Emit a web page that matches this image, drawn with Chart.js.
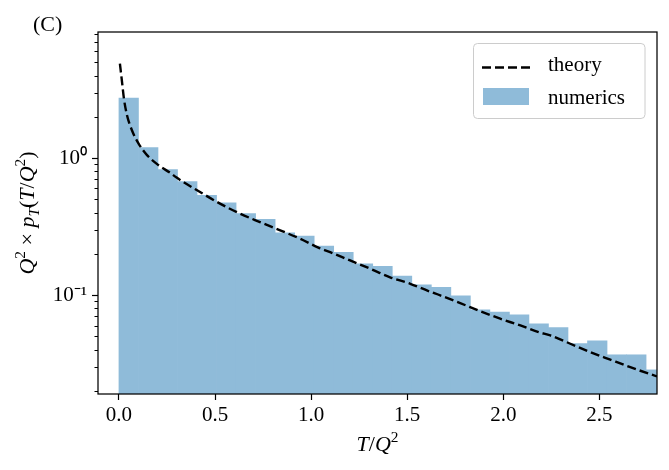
<!DOCTYPE html>
<html>
<head>
<meta charset="utf-8">
<script src="https://cdn.jsdelivr.net/npm/chart.js@4.4.1/dist/chart.umd.min.js"></script>
<style>
  html, body { margin: 0; padding: 0; background: #fff; }
  #wrap { width: 669px; height: 470px; }
</style>
</head>
<body>
<div id="wrap"><canvas id="chart" width="669" height="470"></canvas></div>
<script>
// ---------------------------------------------------------------------------
// Data
// ---------------------------------------------------------------------------

// histogram bin edges (T/Q^2)
const binEdges = [
  0.0000, 0.1016, 0.2032, 0.3048, 0.4064, 0.5080, 0.6096, 0.7112, 0.8128, 0.9144,
  1.0160, 1.1176, 1.2192, 1.3208, 1.4224, 1.5240, 1.6256, 1.7272, 1.8288, 1.9304,
  2.0320, 2.1336, 2.2352, 2.3368, 2.4384, 2.5400, 2.6416, 2.7432, 2.8448
];
// normalised histogram heights ("numerics")
const binHeights = [
  2.74, 1.19, 0.823, 0.673, 0.534, 0.472, 0.393, 0.357, 0.285, 0.270,
  0.228, 0.205, 0.169, 0.162, 0.138, 0.119, 0.114, 0.099, 0.078, 0.0752,
  0.0719, 0.0618, 0.0581, 0.0444, 0.0465, 0.0367, 0.0367, 0.0285
];

// theory curve samples
const theoryT = [
  0.005, 0.016, 0.026, 0.042, 0.068, 0.103, 0.146, 0.207, 0.267, 0.300,
  0.422, 0.526, 0.630, 0.734, 0.839, 0.943, 1.038, 1.099, 1.203, 1.307,
  1.411, 1.516, 1.611, 1.672, 1.776, 1.880, 1.984, 2.089, 2.184, 2.245,
  2.349, 2.453, 2.557, 2.661, 2.800
];
const theoryP = [
  4.89, 3.59, 2.71, 2.05, 1.59, 1.27, 1.05, 0.885, 0.78, 0.72,
  0.565, 0.465, 0.393, 0.341, 0.297, 0.258, 0.222, 0.206, 0.179, 0.156,
  0.135, 0.121, 0.107, 0.0995, 0.0874, 0.0764, 0.0673, 0.0601, 0.0537, 0.0508,
  0.0442, 0.0384, 0.0338, 0.0298, 0.0255
];

// axes
const xTickValues = [0.0, 0.5, 1.0, 1.5, 2.0, 2.5];
const yTickValues = [0.1, 1];
const yTickLabels = ['10\u207B\u00B9', '10\u2070'];
const yMinorTicks = [
  0.02, 0.03, 0.04, 0.05, 0.06, 0.07, 0.08, 0.09,
  0.2, 0.3, 0.4, 0.5, 0.6, 0.7, 0.8, 0.9,
  2, 3, 4, 5, 6, 7, 8
];

const FONT = 'Liberation Serif';
const barColor = '#8fbbd9';

// ---------------------------------------------------------------------------
// Helpers
// ---------------------------------------------------------------------------

// draw a run of (italic / sup / sub) text pieces centred at (x, y)
function drawRich(ctx, runs, x, y, size, angle) {
  const fontFor = r => {
    const s = r.sup || r.sub ? size * 0.7 : size;
    return (r.it ? 'italic ' : '') + s + 'px "' + FONT + '"';
  };
  let total = 0;
  runs.forEach(r => { ctx.font = fontFor(r); r.w = ctx.measureText(r.t).width; total += r.w; });
  ctx.save();
  ctx.translate(x, y);
  ctx.rotate(angle || 0);
  ctx.textBaseline = 'alphabetic';
  ctx.textAlign = 'left';
  ctx.fillStyle = '#000';
  let cx = -total / 2;
  runs.forEach(r => {
    ctx.font = fontFor(r);
    const dy = r.sup ? -size * 0.4 : r.sub ? size * 0.22 : 0;
    ctx.fillText(r.t, cx, dy);
    cx += r.w;
  });
  ctx.restore();
}

const decorations = {
  id: 'decorations',
  afterDraw(chart) {
    const { ctx, chartArea: a, scales } = chart;

    // minor log ticks on the y axis
    ctx.save();
    ctx.strokeStyle = '#000';
    ctx.lineWidth = 1;
    yMinorTicks.forEach(v => {
      const py = Math.round(scales.y.getPixelForValue(v)) + 0.5;
      ctx.beginPath();
      ctx.moveTo(a.left, py);
      ctx.lineTo(a.left - 3.5, py);
      ctx.stroke();
    });

    // axes frame
    ctx.lineWidth = 1.25;
    ctx.strokeRect(a.left, a.top, a.right - a.left, a.bottom - a.top);
    ctx.restore();

    // legend
    const lx = 473.5, ly = 43.5, lw = 171.5, lh = 75;
    ctx.save();
    ctx.beginPath();
    ctx.roundRect(lx, ly, lw, lh, 4);
    ctx.fillStyle = 'rgba(255,255,255,0.8)';
    ctx.fill();
    ctx.strokeStyle = '#cccccc';
    ctx.lineWidth = 1;
    ctx.stroke();

    const dsLine = chart.data.datasets[0];
    const dsBars = chart.data.datasets[1];
    ctx.beginPath();
    ctx.setLineDash(dsLine.borderDash);
    ctx.strokeStyle = dsLine.borderColor;
    ctx.lineWidth = dsLine.borderWidth;
    ctx.moveTo(482, 67.5);
    ctx.lineTo(530, 67.5);
    ctx.stroke();
    ctx.setLineDash([]);
    ctx.fillStyle = dsBars.backgroundColor;
    ctx.fillRect(483, 88, 46, 17);

    ctx.fillStyle = '#000';
    ctx.font = '21px "' + FONT + '"';
    ctx.textBaseline = 'alphabetic';
    ctx.textAlign = 'left';
    ctx.fillText(dsLine.label, 548, 70.5);
    ctx.fillText(dsBars.label, 548, 103.5);

    // panel label
    ctx.font = '22px "' + FONT + '"';
    ctx.fillText('(C)', 33, 31);
    ctx.restore();

    // axis titles
    drawRich(ctx, [
      { t: 'T', it: true }, { t: '/' }, { t: 'Q', it: true }, { t: '2', sup: true }
    ], (a.left + a.right) / 2, 451, 22, 0);

    drawRich(ctx, [
      { t: 'Q', it: true }, { t: '2', sup: true }, { t: ' \u00D7 ' },
      { t: 'p', it: true }, { t: 'T', it: true, sub: true },
      { t: '(' }, { t: 'T', it: true }, { t: '/' }, { t: 'Q', it: true },
      { t: '2', sup: true }, { t: ')' }
    ], 34, (a.top + a.bottom) / 2, 22, -Math.PI / 2);
  }
};

// ---------------------------------------------------------------------------
// Chart
// ---------------------------------------------------------------------------

const barPoints = binHeights.map((h, i) => ({ x: (binEdges[i] + binEdges[i + 1]) / 2, y: h }));
const theoryPoints = theoryT.map((t, i) => ({ x: t, y: theoryP[i] }));

new Chart(document.getElementById('chart'), {
  type: 'bar',
  data: {
    datasets: [
      {
        type: 'line',
        label: 'theory',
        data: theoryPoints,
        borderColor: '#000',
        borderWidth: 2.4,
        borderDash: [9, 4],
        pointRadius: 0,
        cubicInterpolationMode: 'monotone',
        fill: false,
        order: 0,
      },
      {
        type: 'bar',
        label: 'numerics',
        data: barPoints,
        backgroundColor: barColor,
        borderWidth: 0,
        barPercentage: 1,
        categoryPercentage: 1,
        grouped: false,
        order: 1,
      },
    ],
  },
  options: {
    responsive: false,
    animation: false,
    layout: { padding: { left: 0, right: 12, top: 32, bottom: 0 } },
    plugins: {
      legend: { display: false },
      tooltip: { enabled: false },
    },
    scales: {
      x: {
        type: 'linear',
        min: -0.109,
        max: 2.80,
        offset: false,
        afterBuildTicks: s => { s.ticks = xTickValues.map(v => ({ value: v })); },
        afterFit: s => { s.height = 76; },
        ticks: {
          callback: v => Number(v).toFixed(1),
          color: '#000',
          font: { family: FONT, size: 21 },
          padding: 3,
          maxRotation: 0,
          autoSkip: false,
        },
        grid: {
          offset: false,
          drawOnChartArea: false,
          drawTicks: true,
          tickLength: 6,
          tickColor: '#000',
          tickWidth: 1.2,
        },
        border: { display: false },
      },
      y: {
        type: 'logarithmic',
        min: 0.019,
        max: 8.31,
        afterBuildTicks: s => { s.ticks = yTickValues.map(v => ({ value: v, major: true })); },
        afterFit: s => { s.width = 98; },
        ticks: {
          callback: (v, i) => yTickLabels[i],
          color: '#000',
          font: { family: FONT, size: 21 },
          padding: 5,
          autoSkip: false,
        },
        grid: {
          drawOnChartArea: false,
          drawTicks: true,
          tickLength: 6,
          tickColor: '#000',
          tickWidth: 1.2,
        },
        border: { display: false },
      },
    },
  },
  plugins: [decorations],
});
</script>
</body>
</html>
